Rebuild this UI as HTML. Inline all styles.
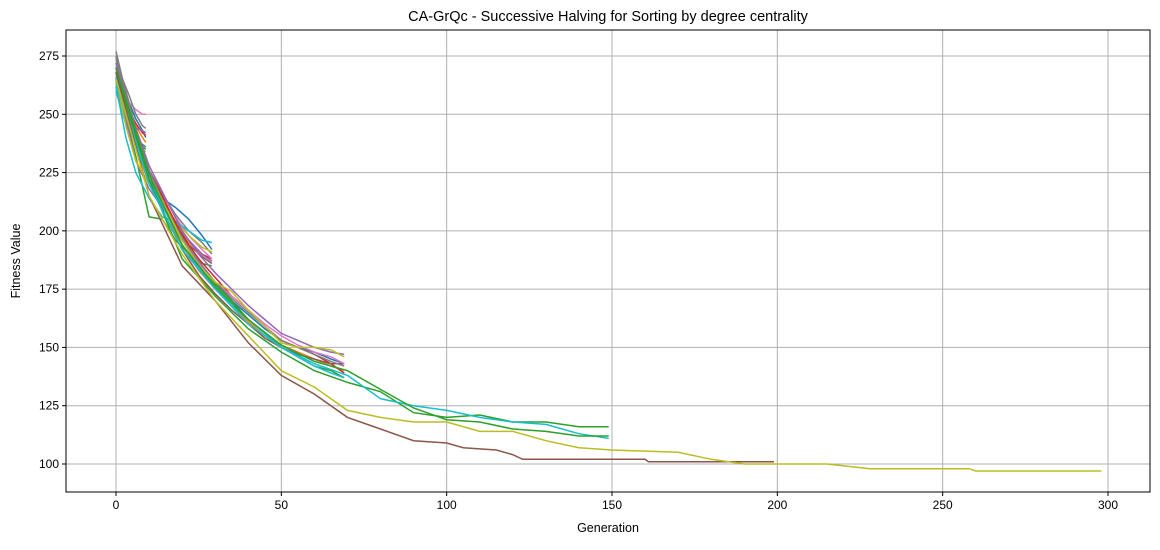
<!DOCTYPE html>
<html><head><meta charset="utf-8"><style>
body{margin:0;background:#fff;font-family:"Liberation Sans","DejaVu Sans",sans-serif}
</style></head><body>
<svg id="chart" width="1160" height="545" xmlns="http://www.w3.org/2000/svg" font-family="Liberation Sans, DejaVu Sans, sans-serif">
<rect width="1160" height="545" fill="#fff"/>
<g id="grid"></g><g id="series"></g><g id="axes"></g>
<text x="608" y="21" text-anchor="middle" font-size="14.5">CA-GrQc - Successive Halving for Sorting by degree centrality</text>
<text x="608" y="532" text-anchor="middle" font-size="12.5">Generation</text>
<text transform="translate(20,261) rotate(-90)" text-anchor="middle" font-size="12.5">Fitness Value</text>
</svg>
<script>
const xTicks=[0,50,100,150,200,250,300];
const yTicks=[100,125,150,175,200,225,250,275];
const palette=["#1f77b4","#ff7f0e","#2ca02c","#d62728","#9467bd","#8c564b","#e377c2","#7f7f7f","#bcbd22","#17becf"];
// each series: generations and fitness values
const gens10=[0,2,4,6,8,9];
const vals10=[
[272,262,255,248,243,240],[268,258,250,245,240,238],[265,255,246,240,236,235],[270,260,252,246,242,241],
[266,257,250,244,243,242],[262,252,245,240,237,236],[270,263,255,252,250,250],[277,265,258,250,245,244],
[264,254,245,238,235,234],[260,250,242,238,236,236]];
const gens30=[0,3,6,10,14,18,22,26,29];
const vals30=[
[268,252,238,222,214,210,205,198,192],[265,250,236,220,210,202,195,190,187],[266,248,232,206,205,196,190,186,185],
[270,255,238,225,213,204,196,190,188],[264,248,230,218,210,202,196,190,187],[268,252,236,222,212,203,194,189,186],
[272,258,240,226,216,206,198,192,188],[275,260,244,226,216,207,200,195,190],[265,245,230,220,212,204,198,193,191],
[262,240,225,214,206,204,200,196,195]];
const gens70=[0,5,10,15,20,25,30,35,40,45,50,55,60,65,69];
const vals70=[
[268,245,225,210,196,186,178,170,164,158,153,150,148,145,143],[266,242,222,206,194,183,175,168,161,155,151,148,145,142,140],
[270,244,224,209,196,186,177,170,162,156,150,146,142,140,137],[268,246,226,212,198,188,180,172,166,159,153,150,147,143,139],
[272,248,228,214,200,190,182,175,168,162,156,153,150,148,147],[265,240,222,206,192,181,173,166,160,154,150,147,145,143,143],
[270,246,226,210,196,186,178,172,166,160,155,151,148,146,143],[274,248,226,210,197,187,178,171,165,159,153,150,147,144,142],
[268,242,224,210,196,185,178,174,166,159,152,150,150,149,146],[264,240,222,208,194,184,176,168,162,156,150,146,142,139,137]];
const gens150=[0,10,20,30,40,50,60,70,80,90,100,110,120,130,140,149];
const vals150=[
[268,222,188,172,158,148,140,135,131,122,120,121,118,118,116,116],
[266,220,192,175,160,150,143,138,128,125,123,120,118,117,113,111],
[270,224,194,176,162,151,144,140,132,124,119,118,115,114,112,112]];
const gens200=[0,10,20,30,40,50,60,70,80,90,100,105,115,120,123,160,161,199];
const vals200=[268,215,185,170,152,138,130,120,115,110,109,107,106,104,102,102,101,101];
const gens300=[0,10,20,30,40,50,60,70,80,90,100,110,120,130,140,150,170,180,190,215,228,258,260,298];
const vals300=[265,215,190,170,155,140,133,123,120,118,118,114,114,110,107,106,105,102,100,100,98,98,97,97];

const L=66,R=1150,T=30,B=492;
const xs=g=>116+g*(1108-116)/300;
const ys=v=>464-(v-100)*(464-56)/175;
const NS="http://www.w3.org/2000/svg";
function mk(t,a,p){const e=document.createElementNS(NS,t);for(const k in a)e.setAttribute(k,a[k]);p.appendChild(e);return e;}
const grid=document.getElementById('grid'),ax=document.getElementById('axes'),sg=document.getElementById('series');
xTicks.forEach(t=>{const x=xs(t);
const gl=mk('line',{x1:x,x2:x,y1:T,y2:B,stroke:'#b0b0b0','stroke-width':1},grid);

mk('line',{x1:x,x2:x,y1:B,y2:B+4,stroke:'#000'},ax);
const tx=mk('text',{x:x,y:B+17,'text-anchor':'middle','font-size':12},ax);tx.textContent=t;
});
yTicks.forEach(t=>{const y=ys(t);
const gl=mk('line',{x1:L,x2:R,y1:y,y2:y,stroke:'#b0b0b0','stroke-width':1},grid);

mk('line',{x1:L-4,x2:L,y1:y,y2:y,stroke:'#000'},ax);
const tx=mk('text',{x:L-7,y:y+4,'text-anchor':'end','font-size':12},ax);tx.textContent=t;
});
const fr=mk('rect',{x:L,y:T,width:R-L,height:B-T,fill:'none',stroke:'#000','stroke-width':1},ax);

let ci=0;
function draw(g,v,color){
const pts=g.map((gg,i)=>xs(gg).toFixed(1)+','+ys(v[i]).toFixed(1)).join(' ');
const pl=mk('polyline',{points:pts,fill:'none',stroke:color,'stroke-width':1.5},sg);

}
vals10.forEach(v=>draw(gens10,v,palette[(ci++)%10]));
vals30.forEach(v=>draw(gens30,v,palette[(ci++)%10]));
vals70.forEach(v=>draw(gens70,v,palette[(ci++)%10]));
draw(gens150,vals150[0],palette[2]);draw(gens150,vals150[1],palette[9]);draw(gens150,vals150[2],palette[2]);
draw(gens200,vals200,palette[5]);
draw(gens300,vals300,palette[8]);
</script>
</body></html>
